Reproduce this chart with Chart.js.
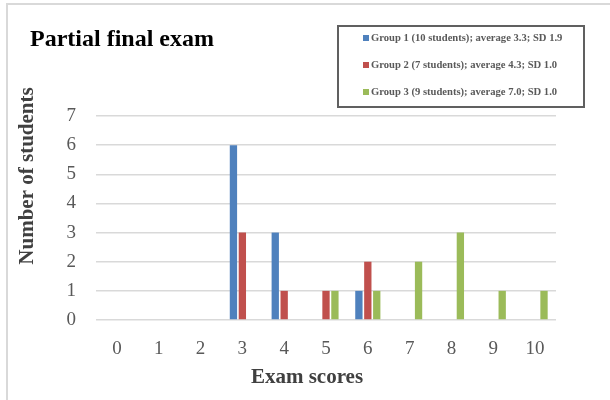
<!DOCTYPE html>
<html>
<head>
<meta charset="utf-8">
<script src="https://cdn.jsdelivr.net/npm/chart.js@4"></script>
<style>
html,body{margin:0;padding:0;background:#fff;}
#wrap{width:610px;height:400px;position:relative;}
</style>
</head>
<body>
<div id="wrap"><canvas id="c" width="610" height="400"></canvas></div>
<script>
const categories = ['0','1','2','3','4','5','6','7','8','9','10'];
const group1 = [0,0,0,6,3,0,1,0,0,0,0];
const group2 = [0,0,0,3,1,1,2,0,0,0,0];
const group3 = [0,0,0,0,0,1,1,2,3,1,1];
const seriesLabels = [
  'Group 1 (10 students); average 3.3; SD 1.9',
  'Group 2 (7 students); average 4.3; SD 1.0',
  'Group 3 (9 students); average 7.0; SD 1.0'
];
const yTicks = [0,1,2,3,4,5,6,7];
const chartTitle = 'Partial final exam';
const xTitle = 'Exam scores';
const yTitle = 'Number of students';
const colors = ['#4f81bd','#c0504d','#9bbb59'];

const SERIF = '"Liberation Serif", "Times New Roman", serif';

const decor = {
  id: 'decor',
  beforeDraw(chart) {
    const ctx = chart.ctx;
    ctx.save();
    ctx.fillStyle = '#fff';
    ctx.fillRect(0,0,chart.width,chart.height);
    ctx.strokeStyle = '#d9d9d9';
    ctx.lineWidth = 2;
    ctx.beginPath();
    ctx.moveTo(7, 400);
    ctx.lineTo(7, 4);
    ctx.lineTo(610, 4);
    ctx.stroke();
    ctx.restore();
  },
  afterDraw(chart) {
    const ctx = chart.ctx;
    ctx.save();
    ctx.fillStyle = '#000';
    ctx.font = 'bold 24px ' + SERIF;
    ctx.textAlign = 'left';
    ctx.textBaseline = 'alphabetic';
    ctx.fillText(chartTitle, 30, 46);
    ctx.fillStyle = '#404040';
    ctx.font = 'bold 21px ' + SERIF;
    ctx.textAlign = 'center';
    ctx.textBaseline = 'middle';
    ctx.fillText(xTitle, 307, 378);
    ctx.save();
    ctx.translate(28, 176);
    ctx.rotate(-Math.PI/2);
    ctx.fillText(yTitle, 0, 0);
    ctx.restore();
    ctx.fillStyle = '#fff';
    ctx.strokeStyle = '#606060';
    ctx.lineWidth = 2;
    ctx.fillRect(338, 26, 246, 81);
    ctx.strokeRect(338, 26, 246, 81);
    ctx.font = 'bold 10.6px ' + SERIF;
    ctx.textAlign = 'left';
    ctx.textBaseline = 'middle';
    const rows = [38, 65, 92];
    chart.data.datasets.forEach((ds, i) => {
      ctx.fillStyle = ds.backgroundColor;
      ctx.fillRect(363, rows[i]-3, 6, 6);
      ctx.fillStyle = '#595959';
      ctx.fillText(ds.label, 371, rows[i]);
    });
    ctx.restore();
  }
};

new Chart(document.getElementById('c'), {
  type: 'bar',
  data: {
    labels: categories,
    datasets: [group1, group2, group3].map((d, i) => ({
      label: seriesLabels[i],
      data: d,
      backgroundColor: colors[i],
      borderWidth: 0,
      categoryPercentage: 0.64,
      barPercentage: 0.82
    }))
  },
  options: {
    responsive: false,
    animation: false,
    devicePixelRatio: 1,
    layout: { padding: { left: 0, right: 54, top: 116, bottom: 0 } },
    plugins: { legend: { display: false }, title: { display: false }, tooltip: { enabled: false } },
    scales: {
      x: {
        grid: { display: false },
        border: { display: false },
        ticks: { color: '#595959', font: { family: SERIF, size: 19 }, padding: 10, maxRotation: 0 },
        afterFit(s) { s.height = 80; }
      },
      y: {
        min: 0, max: 7,
        afterBuildTicks(s) { s.ticks = yTicks.map(v => ({ value: v })); },
        grid: { color: '#d9d9d9', lineWidth: 1.5, drawTicks: false },
        border: { display: false },
        ticks: { color: '#595959', font: { family: SERIF, size: 19 }, padding: 20 },
        afterFit(s) { s.width = 96; }
      }
    }
  },
  plugins: [decor]
});
</script>
</body>
</html>
